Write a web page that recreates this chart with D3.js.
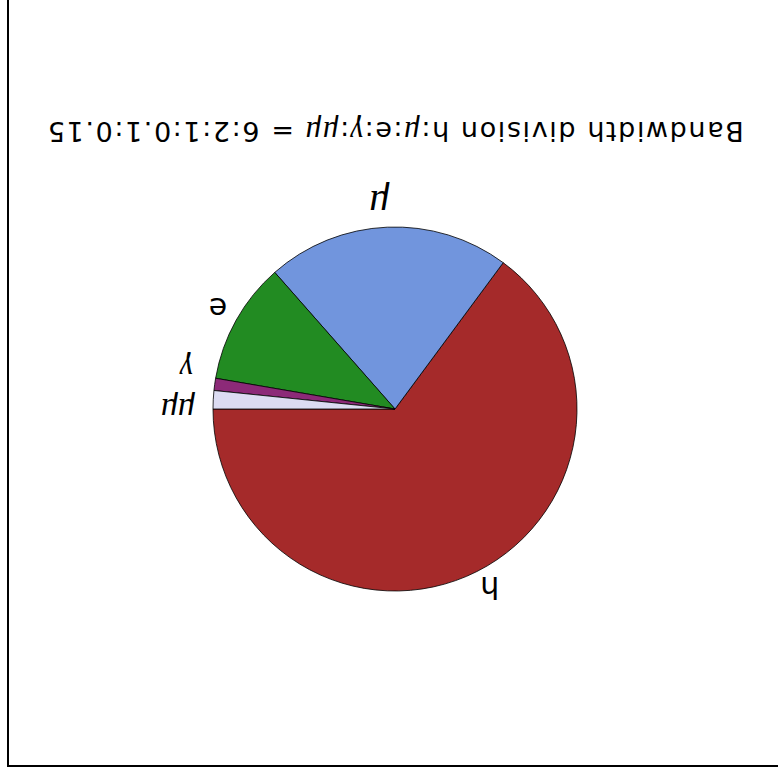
<!DOCTYPE html>
<html><head><meta charset="utf-8">
<script src="https://cdn.jsdelivr.net/npm/d3@7"></script>
<style>body{margin:0;background:#fff}svg{display:block}</style>
</head><body>
<script>
const categories = ["h", "μ", "e", "γ", "μμ"];
const values = [6, 2, 1, 0.1, 0.15];
const colors = ["#A52A2A", "#7195DD", "#228B22", "#8C2A78", "#DCDCF2"];
const italic = [false, true, false, true, true];
const titleParts = [["Bandwidth division h:", false], ["μ", true], [":e:", false], ["γ", true], [":", false], ["μμ", true], [" = 6:2:1:0.1:0.15", false]];

const W = 778, H = 773;
const svg = d3.select("body").append("svg").attr("width", W).attr("height", H);
// whole figure is shown upside down
const g = svg.append("g").attr("transform", `rotate(180 ${W/2} ${H/2})`);

g.append("rect").attr("x", -20).attr("y", 7).attr("width", 790).attr("height", 800)
  .attr("fill", "none").attr("stroke", "#000").attr("stroke-width", 2);

const cx = 383, cy = 364, r = 182;
const pie = d3.pie().sort(null).value(d => d)
  .startAngle(Math.PI / 2).endAngle(Math.PI / 2 - 2 * Math.PI);
const arcs = pie(values);
const arc = d3.arc().innerRadius(0).outerRadius(r);
const pg = g.append("g").attr("transform", `translate(${cx},${cy})`);
pg.selectAll("path").data(arcs).join("path")
  .attr("d", arc).attr("fill", (d, i) => colors[i])
  .attr("stroke", "#000").attr("stroke-width", 0.8);

const nudge = [[5, 0], [-3, 4], [-7, 3], [4, 12], [0, -12]];
const sizes = [30, 40, 30, 32, 34];
pg.selectAll("text").data(arcs).join("text")
  .each(function (d, i) {
    const a = (d.startAngle + d.endAngle) / 2; // d3 angle: 0 = up, clockwise
    const x = 1.1 * r * Math.sin(a), y = -1.1 * r * Math.cos(a);
    d3.select(this).attr("x", x + nudge[i][0]).attr("y", y + nudge[i][1])
      .attr("text-anchor", x < -5 ? "end" : (x > 5 ? "start" : "middle"))
      .attr("dominant-baseline", "central");
  })
  .attr("font-family", (d, i) => italic[i] ? "'Liberation Serif', serif" : "'DejaVu Sans', sans-serif")
  .attr("font-style", (d, i) => italic[i] ? "italic" : "normal")
  .attr("font-size", (d, i) => sizes[i])
  .text((d, i) => categories[i]);

const title = g.append("text").attr("x", cx).attr("y", 651)
  .attr("text-anchor", "middle").attr("font-family", "'DejaVu Sans', sans-serif")
  .attr("font-size", 27).attr("letter-spacing", 1.6);
titleParts.forEach(([t, it]) => {
  title.append("tspan").text(t)
    .attr("font-style", it ? "italic" : "normal")
    .attr("font-family", it ? "'Liberation Serif', serif" : "'DejaVu Sans', sans-serif")
    .attr("font-size", it ? 31 : 27);
});
</script>
</body></html>
